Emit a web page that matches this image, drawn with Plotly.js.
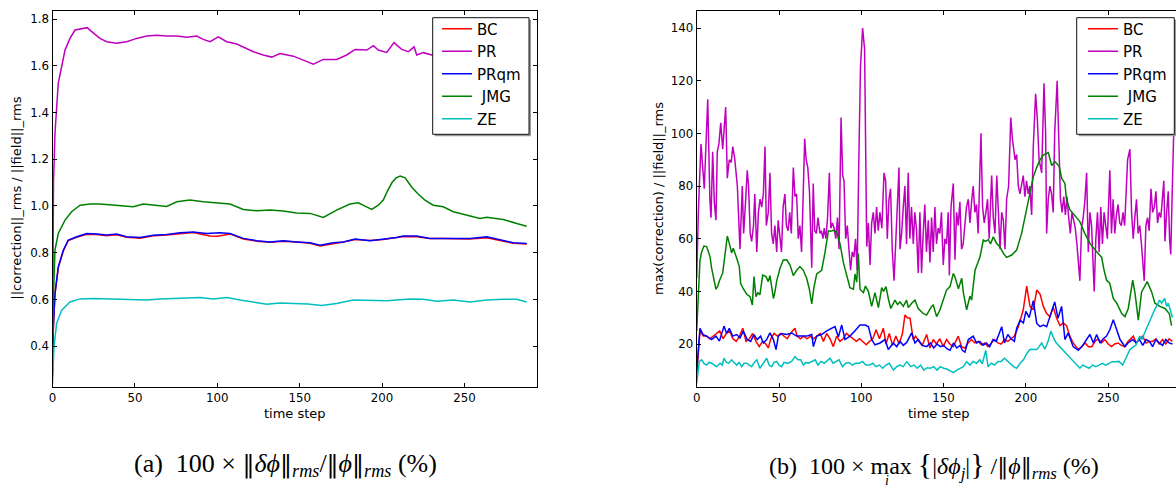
<!DOCTYPE html>
<html>
<head>
<meta charset="utf-8">
<script src="https://cdn.plot.ly/plotly-3.0.1.min.js"></script>
<style>html,body{margin:0;padding:0;background:#fff;}#chart{width:1176px;height:487px;}</style>
</head>
<body>
<div id="chart"></div>
<script>
// ---------- Panel (a): ||correction||_rms / ||field||_rms ----------
const a_BC_x = [0,0.5,1.5,3.5,6.6,9.6,14.7,20.8,26.8,32.9,38.9,45,53.1,61.2,69.3,77.4,85.4,91,95.6,100,104,108,115.8,123.9,132,140,148.2,156.3,162.3,170.4,176.5,183.6,192.7,200.7,208.8,212.9,221,229.1,237.1,245.2,253.3,263.5,267,271.5,279.6,287.7];
const a_BC_y = [0.27,0.47,0.62,0.735,0.808,0.852,0.866,0.879,0.878,0.872,0.877,0.866,0.862,0.872,0.876,0.882,0.886,0.878,0.871,0.870,0.874,0.880,0.858,0.849,0.844,0.849,0.845,0.840,0.828,0.840,0.846,0.856,0.852,0.856,0.866,0.869,0.868,0.860,0.860,0.860,0.858,0.864,0.858,0.852,0.840,0.837];

const a_PR_x = [0,0.6,1.5,3.5,7.6,10.6,13.7,16.7,21.1,23.8,28.8,32.9,38.9,45,51.1,57.2,63.2,69.3,75.4,81.4,87.5,91.5,95.6,100.6,105.7,111.8,117.8,121.9,127.9,133,138,146.1,152.2,158.3,164.3,172.4,178.5,183.6,190.7,194.7,197.7,202.8,207.2,211.9,215.9,219.4,221,225,230.1,240,250,260,270,280,288];
const a_PR_y = [0.32,1.10,1.31,1.526,1.667,1.717,1.753,1.756,1.763,1.746,1.717,1.703,1.696,1.703,1.717,1.727,1.731,1.727,1.727,1.722,1.727,1.713,1.703,1.724,1.703,1.693,1.674,1.660,1.646,1.637,1.652,1.641,1.624,1.607,1.627,1.627,1.646,1.670,1.667,1.686,1.667,1.657,1.699,1.670,1.660,1.681,1.646,1.656,1.646,1.650,1.645,1.650,1.648,1.652,1.650];

const a_PRqm_x = [0,0.5,1.5,3.5,6.6,9.6,14.7,20.8,26.8,32.9,38.9,45,53.1,61.2,69.3,77.4,85.4,93.5,101.6,107.7,115.8,123.9,132,140,148.2,156.3,162.3,170.4,176.5,183.6,192.7,200.7,208.8,212.9,221,229.1,237.1,245.2,253.3,263.5,271.5,279.6,287.7];
const a_PRqm_y = [0.28,0.482,0.625,0.739,0.811,0.854,0.868,0.882,0.880,0.875,0.880,0.868,0.865,0.874,0.878,0.885,0.888,0.882,0.885,0.882,0.861,0.851,0.846,0.851,0.846,0.842,0.832,0.842,0.846,0.858,0.851,0.857,0.865,0.871,0.871,0.861,0.861,0.861,0.861,0.868,0.854,0.842,0.839];

const a_JMG_x = [0,0.6,1.5,3.5,7.6,11.6,16.7,22.8,28.8,38.9,49,55.1,63.2,69.3,75.4,83.4,91.5,99.6,107.7,115.8,123.9,132,140,148.2,156.3,164.3,172.4,180.5,185.6,189.6,193.7,197.7,200.7,203,206,208.5,211,214,218,222,226,231,237.1,243.2,251.3,259.4,263.5,273.5,281.7,287.7];
const a_JMG_y = [0.29,0.62,0.811,0.882,0.939,0.975,1.003,1.008,1.008,1.003,0.996,1.008,1.003,0.998,1.018,1.025,1.018,1.013,1.008,0.985,0.979,0.982,0.978,0.970,0.968,0.951,0.982,1.008,1.013,0.999,0.985,1.003,1.025,1.06,1.10,1.12,1.128,1.12,1.08,1.05,1.025,1.003,0.996,0.975,0.961,0.946,0.951,0.942,0.925,0.913];

const a_ZE_x = [0,0.9,2.5,5.6,10.6,16.7,24.9,32.9,41,49,57.2,65.3,73.4,81.4,89.5,97.6,105.7,113.8,121.9,130,138,148,155,163.3,172.4,182.5,192.7,202.8,216.9,225,233.1,243.2,253.3,263.5,273.5,281.7,287.7];
const a_ZE_y = [0.24,0.397,0.497,0.554,0.589,0.602,0.604,0.602,0.602,0.600,0.597,0.602,0.605,0.608,0.608,0.602,0.608,0.597,0.588,0.579,0.584,0.582,0.580,0.574,0.582,0.597,0.594,0.594,0.602,0.600,0.592,0.597,0.589,0.597,0.600,0.600,0.589];

// ---------- Panel (b): max(correction) / ||field||_rms ----------
const b_BC_x = [0,1,2,4,6,8,10,12,14,16,18,20,22,24,26,28,30,32,34,36,38,40,42,43.5,45,47,49,51,53,55,57,59.7,61,63,65,67,69,71,73,75,77,79,81,83,85,87,89,91,93,95,97,99,101,103,105,107,109,111,113.4,115,117,119,121,123,125,126.5,128,129.6,131.6,133,135,137,139.7,141.7,143.7,145.7,147.7,149.8,151.8,153.8,155.9,158.9,160.9,162.9,164.9,166.9,168.9,171,173,175,177,179,181,183,185,187,189,191,193,195.4,197,198.4,200.5,202.5,204.5,206.6,208.6,210.6,212.6,214.6,216.6,218.7,220.7,222.7,224.7,226.7,228.7,231.8,234,236,238,240,242,244,246,248,250,252,254,256,258,260,262,265.3,267,269,271,273,275,277,279,281,283,285,287,289];
const b_BC_y = [8,18,25,23,23,22,23,24,25,22,24,25,22,21,23,26,21,22,24,21,19,21,20,18.5,22,24,23,24,23,22,24,26,23,22,23,22,23,22,23,24,21,24,22,19,23,21,22,24,23,22,21,22,21,19.7,21,22,25.4,22,26,20,24,19.5,23,20,24,31,30,29.8,21.7,23,21,19.5,23.6,18.5,21.7,20,22,19,21.7,20,19,23,19,18.5,20.4,21.7,20.4,21,19.7,20.4,19,20.5,21.7,20.4,20,21.7,21,22,23,26.6,30,33,42,34.3,33,40.5,39,34.3,31.6,30.4,34,29.8,27,28,27,23,20.4,17.9,19,20.4,19,19,21,22,20.4,21.7,20,19,20,20.4,19.5,19,21,23,20.4,22,23,20.4,21,21,22,20,21.7,20,22,21];

const b_PR_x = [0,1,2.6,3.6,4.6,6.7,8,8.7,9.7,10.7,11.7,12.5,13.5,14.6,15.8,17.6,18.6,19.8,21,21.9,23,24.7,25.5,26.3,27.7,28.5,29.5,30.7,31.5,32.5,33.4,34.5,35.3,36.5,37.5,38.5,39.5,40.5,41.5,42.3,43.5,44.5,45.5,46.5,47.5,48.6,49.5,50.5,51.5,52.5,53.6,54.5,55.5,56.5,57.5,58.7,59.7,60.7,61.7,62.7,63.7,64.5,65.6,66.5,67.5,68.5,69.9,70.8,71.7,72.7,73.7,74.9,75.8,76.7,77.5,78.5,79.5,80.6,81.5,82.5,83.5,84.5,85.5,86.5,87.7,88.7,89.5,90.5,91.5,92.5,93.5,94.5,95.5,96.5,97.5,98.5,99.5,100.8,102,103.3,104.3,105.3,106.3,107.3,108.3,109.3,110.3,111.3,112.5,113.8,114.8,115.8,116.8,117.8,118.8,119.9,120.9,121.9,122.9,123.5,124.5,125.5,126.5,127.5,128.5,129.5,130.5,131.6,132.5,133.5,134.6,135.6,136.6,137.6,138.6,139.6,140.7,141.7,142.7,143.7,144.7,145.7,146.7,147.7,148.7,149.8,150.8,151.8,152.8,153.5,154.5,155.9,156.9,157.9,158.9,159.9,160.9,161.9,162.9,163.9,165,166,167,168,169,170,171,172.7,173.7,174.7,175.7,176.7,177.7,179.2,180.2,181.2,182.3,183.3,184.3,185.3,186.3,187.3,188.3,189.5,190.8,191.8,193.4,194.4,195.4,196.4,197.4,198.4,199.4,200.4,201.4,202.4,203.5,204.5,205.9,206.9,208,209.6,211,212,212.6,213.6,214.6,215.6,216.6,217.5,219,220,221,222,223,224,225,226,227,228,229,230,231,232.8,233.8,234.8,235.8,236.9,237.9,238.9,239.9,240.5,241.5,242.5,243.5,244.5,245.5,246.5,247.5,248.5,249.5,251,252,253,254,255,256,257,258,259,260,261.8,263.2,264.2,265.2,266.2,267.2,268.2,269.2,270.2,271.9,272.9,273.9,274.9,276,277,278,279,280,281,282,283.8,284.5,285.5,286.5,287.3,288,289,290];
const b_PR_y = [45,70,96,88,79,113,75,68,93,74,67,93,96,104,94,110,83,90,89,95,91,80,70,56,80,62,72,86,80,62,59,65,77,55,70,75,72,77,95,65,70,85,62,58,65,55,67,60,55,72,77,65,63,70,62,87,76,77,60,65,55,72,98,90,87,78,49,81,63,62,68,62,63,60,64,60,68,85,64,66,64,60,68,56,106,84,82,60,65,56,48,55,53,60,48,90,125,140,132,57,66,50,66,70,62,72,63,70,64,85,82,60,75,79,56,44,58,68,87,56,62,72,80,58,85,60,72,58,70,64,47,70,47,62,73,55,67,51,68,55,72,58,64,62,70,50,60,58,70,46,72,81,52,70,65,74,56,58,64,72,75,66,74,80,70,73,62,100,72,66,70,75,60,84,68,62,84,70,56,70,67,56,75,80,106,98,90,92,80,77,80,84,76,82,77,80,69,95,115,106,90,85,119,100,62,75,80,77,70,100,120,100,75,70,76,69,76,68,62,70,67,64,58,44,64,68,74,85,55,70,65,56,40,60,70,55,72,58,70,65,60,86,62,75,62,69,73,66,65,70,65,90,94,70,60,68,75,62,65,58,44,65,68,63,79,70,72,78,66,70,68,82,59,70,78,60,54,80,105];

const b_PRqm_x = [0,1,2,4,6,9.1,11.7,13.8,15.2,16.6,18.2,19.8,21.8,24.3,26.3,28.3,30.7,32.8,34.8,36.8,38.8,40.5,42.5,44.5,46.6,48.2,49.6,51.6,54.7,57.7,60.7,63.8,66.8,69.9,70.9,72.9,75.9,79,82,84,86.1,88.1,90.1,93.1,96.2,99.2,102.3,104.3,106.3,108.3,111.4,114.4,116.4,119.5,121.5,123.5,125.5,127.6,130.6,132.6,134.6,137,139.7,142,144,146,148,150,152,153.9,156,158,160,161.5,163,165,168,170,172,174,176,178,180,182,185.3,187,189,191,193,194.4,196.5,198.5,200,202,204.5,206.6,208.6,210.6,212.6,215,217.5,219.5,221.7,223.7,225.7,228.7,231.8,234,236,238.9,241,243,245,247,249,251,253.1,255.2,257.2,260.2,262,264.9,267,269,271,273,275,277,279,281,283,285,287,289];
const b_PRqm_y = [10,20,26,23.5,23,21.7,23,21.1,23.6,26.8,24,26,23,23.6,22.3,24.9,21.7,21,23.6,21.7,23,20.4,21.7,24.2,21.7,17.9,23,24,23.6,24.2,23,23,23,23.6,19,23,23.6,25,26,26.6,22.7,27.2,21.7,23,25,27.2,27.2,26.6,21.7,19.7,20.4,21.7,17.9,20.4,19,21,19.5,20.6,24.2,20.4,21.7,19.5,19,20.4,18.5,20,19,19.5,18.2,17.6,20.4,18.5,19.5,17.5,16.9,21.7,23,20.4,21,19.5,20.4,19,21.7,21,26.6,20.4,23.6,22,21,26,29,28,32.4,30,36.5,27.8,26.6,27.2,26.6,31.6,36,29.8,34.3,21.7,24.2,19,17.6,19,21,23.6,20.4,23.6,20.4,22,23,25.4,29.2,25.4,21.7,19,20.4,21.7,20.4,21.7,19.5,21.7,21,19,21.7,20.4,19.5,21.7,20.4,20];

const b_JMG_x = [0,1,2,3,4.4,6,7,8.1,9,10.1,11.7,12.8,13.8,15.8,17.2,18.6,19.5,20.2,21.2,22.2,23.3,24.3,25.9,26.7,28.3,30.3,32.4,33.8,34.8,36,37.2,38.4,40.1,42.1,43.5,44.5,45.5,46.6,47.6,48.6,50.6,51.6,52.6,54.7,56.7,58.7,60.7,62.7,64.8,66.8,68.4,69.9,71.2,72.9,75.9,77.9,80,81.5,83,85,87.1,89.1,91.1,93.1,95.2,96.2,97.2,98.2,99.2,101.3,102.5,104.3,106.3,108.3,110.4,112.4,113.5,115,116.5,117.9,120.5,122,123.5,125.5,127.5,128.6,130.6,132.6,134.6,137.6,139.7,142.7,143.7,145.8,147.8,149.8,151.8,153.9,155.9,156.9,159,161,162,164,166,167,169.1,172.1,174.1,175.5,177.2,178.5,180.2,182.2,184.3,186.3,188.3,191.4,194.4,197.4,200.5,201.5,204.5,206.5,208.6,210.6,213.6,215.7,217.7,220.3,221.7,223.7,224.7,226.7,228.7,232.8,235.8,238.9,243,246,247.5,249,251,253.1,255.2,258.2,260.2,262.2,264.9,266.3,268.3,270.3,273.7,276.4,278.4,281.4,284.5,287.1,288.5];
const b_JMG_y = [25,42,51.9,55,57.2,57,55,53.2,49,45.6,40.8,42,44,47,53.8,61,59,57.5,54.6,56.4,54,52.6,49.4,43,41,39,38,34.8,45.6,38,39.5,38.7,46.2,45.6,43.7,46,42,37.3,40,44,48.7,50.5,51.9,52,50,46,48,49.4,48,45,41,35.2,41.4,46.6,48,54.6,63,62.8,63.2,62.6,58,51,46.6,41.4,40.8,46.6,43.5,54.4,40.8,39.5,42,40,34.3,39.5,33.8,41.4,40,41.8,37,33.5,36.7,35,36,34.3,36.7,33.8,35.5,36.7,33.5,31.6,31,34.3,34.8,30.4,33,36.7,40.5,41.8,46.8,45.5,41,45,39.5,33,38.2,36.7,48,53,59.5,59,59.7,58,60.7,58.2,56.9,54.4,52.9,53.8,55.7,62,72,74.6,83.5,87,89.9,91.8,92.7,87.8,89.3,87.4,83,81,74.7,71,69.5,66.5,62,58.2,55,53,48,44.3,43,37.3,35.5,31.6,30.4,33.5,44.3,39.2,29.1,39.8,43.7,39.8,35.5,34.3,33.5,31.6,27];

const b_ZE_x = [0,1.6,3,4.5,6,7.5,9.1,10.5,12.1,14.2,15.5,16.6,18,19.5,21.2,22.7,24.3,25.8,27.3,28.8,30.4,32,33.4,35,36.5,38.4,40,42.5,44,45.5,47,48.6,50,51.6,53,55.6,57.7,59.7,61.5,63.2,64.8,66.5,68,70,72,73.7,75.5,77.5,79,81,82.8,84.5,86.5,88.6,90.5,92.5,94.5,96.5,98.8,100.8,102.7,105,107,109,111,113,115,117,119.5,121.5,123.5,125.5,127.6,130,132,134,136,138,140,142,144,146,148,150,152,154,155.9,158,160,162,164,166,168,170,172,173.5,175.6,177,179,181,183,185,187,189,191,192.5,194.4,196.5,198.5,200.5,202.5,204.5,206.6,208,209.6,211.5,213.5,215.2,217,218.5,220.5,222.7,224.5,226.5,228.7,230.7,232.8,234.5,236.5,238.5,240.5,242.5,244.5,246.5,248.5,250.5,252.5,254.5,256.5,258.8,260.5,262,263.2,265.5,267,269.1,270.5,272.1,274,276,278.2,280,281.2,282.5,284.3,285.5,286.5,288.2,289];
const b_ZE_y = [5,13.4,14,12.5,12,13,12.7,12,11.4,12.7,12,14.6,13,12.7,14,13,12,13,11.4,12.7,12.7,12,11.4,13,14,10.8,12.5,14.6,12,11.4,13,13.4,12,11.4,13,12.7,13.4,15.2,14,14,12,13,12.7,13.4,14,12,13.4,12.7,13.4,14.6,12.7,13.4,14,11.4,12.7,13,12,12.7,12.7,13.4,12,12,12.7,11.4,12,10.8,12,12.7,10.1,11.4,12,11.4,13.3,11.4,12,10.8,12,10.1,11,10.8,11.4,10.1,11.4,10.8,10.5,9.8,9.1,10.1,10.8,11.4,13.3,12,13.4,12.7,14,12.5,17.6,11.4,12.7,12,13.4,13.4,14.6,13.4,12,11.4,10.8,12.7,14,16.3,18,17.9,17.9,19,20.4,18,21,24.9,22,20.4,19,17.6,16.3,15.2,13.3,12,10.8,12,11.4,10.8,12,11.4,12,12.7,12,12.7,13.3,13.3,13.4,12,14.6,16.3,17.9,19,19.7,23,21.7,24.2,27,29.8,33,35,36.7,35.5,37.3,34.3,35.5,32,30];

// ---------- labels ----------
const seriesNames = ['BC', 'PR', 'PRqm', ' JMG', 'ZE'];
const seriesColors = ['#ff0000', '#bf00bf', '#0000ff', '#008000', '#00bfbf'];
const xTicks = [0, 50, 100, 150, 200, 250];
const yTicksA = [0.4, 0.6, 0.8, 1.0, 1.2, 1.4, 1.6, 1.8];
const yTicksA_text = ['0.4', '0.6', '0.8', '1.0', '1.2', '1.4', '1.6', '1.8'];
const yTicksB = [20, 40, 60, 80, 100, 120, 140];
const xTitle = 'time step';
const yTitleA = '||correction||_rms / ||field||_rms';
const yTitleB = 'max(correction) / ||field||_rms';

const W = 1176, H = 487;
const px = v => v / W;
const py = v => 1 - v / H;

const aSets = [[a_BC_x, a_BC_y], [a_PR_x, a_PR_y], [a_PRqm_x, a_PRqm_y], [a_JMG_x, a_JMG_y], [a_ZE_x, a_ZE_y]];
const bSets = [[b_BC_x, b_BC_y], [b_PR_x, b_PR_y], [b_PRqm_x, b_PRqm_y], [b_JMG_x, b_JMG_y], [b_ZE_x, b_ZE_y]];

const traces = [];
aSets.forEach((s, i) => traces.push({
  x: s[0], y: s[1], type: 'scatter', mode: 'lines', name: seriesNames[i],
  line: {color: seriesColors[i], width: 1.5}, xaxis: 'x', yaxis: 'y', legend: 'legend'
}));
bSets.forEach((s, i) => traces.push({
  x: s[0], y: s[1], type: 'scatter', mode: 'lines', name: seriesNames[i],
  line: {color: seriesColors[i], width: 1.5}, xaxis: 'x2', yaxis: 'y2', legend: 'legend2'
}));

const tickFont = {family: 'DejaVu Sans', size: 11.8, color: '#000'};
const axisCommon = {
  showgrid: false, zeroline: false, showline: true, linecolor: '#000', linewidth: 1,
  ticks: 'inside', ticklen: 4, tickcolor: '#000', tickwidth: 1, tickfont: tickFont,
  automargin: false, fixedrange: true
};

const legendCommon = {
  bgcolor: 'rgba(0,0,0,0)', borderwidth: 0,
  font: {family: 'DejaVu Sans', size: 15, color: '#000'},
  xanchor: 'right', yanchor: 'top', itemwidth: 30, tracegroupgap: 0
};

// legend frames (matplotlib-style box with a slight shadow)
function frame(x0, y0, x1, y1) {
  return [
    {type: 'rect', xref: 'paper', yref: 'paper', layer: 'above',
     x0: px(x0 + 2), x1: px(x1 + 2), y0: py(y1 + 2), y1: py(y0 + 2),
     fillcolor: '#9a9a9a', line: {width: 0}},
    {type: 'rect', xref: 'paper', yref: 'paper', layer: 'above',
     x0: px(x0), x1: px(x1), y0: py(y1), y1: py(y0),
     fillcolor: '#ffffff', line: {color: '#111', width: 1}}
  ];
}

const bar = '<span style="font-family:DejaVu Serif;font-size:22px">‖</span>';

const layout = {
  width: W, height: H,
  margin: {l: 0, r: 0, t: 0, b: 0, pad: 0},
  paper_bgcolor: '#fff', plot_bgcolor: '#fff',
  showlegend: true,
  xaxis: Object.assign({}, axisCommon, {
    domain: [px(52.5), px(536.7)], range: [0, 293.8],
    tickvals: xTicks, ticktext: xTicks.map(String), mirror: 'ticks', anchor: 'y'
  }),
  yaxis: Object.assign({}, axisCommon, {
    domain: [py(386.8), py(10.7)], range: [0.2257, 1.8356],
    tickvals: yTicksA, ticktext: yTicksA_text, mirror: 'ticks', anchor: 'x'
  }),
  xaxis2: Object.assign({}, axisCommon, {
    domain: [px(696.7), 1], range: [0, 291.2],
    tickvals: xTicks, ticktext: xTicks.map(String), mirror: 'ticks', anchor: 'y2'
  }),
  yaxis2: Object.assign({}, axisCommon, {
    domain: [py(387.3), py(10.7)], range: [3.56, 146.6],
    tickvals: yTicksB, ticktext: yTicksB.map(String), mirror: false, anchor: 'x2'
  }),
  legend: Object.assign({}, legendCommon, {x: px(526), y: py(12.5)}),
  legend2: Object.assign({}, legendCommon, {x: px(1172), y: py(12.5)}),
  shapes: frame(432.7, 17.7, 529, 134.3).concat(frame(1076.7, 17.7, 1174.3, 134.3)),
  annotations: [
    {text: xTitle, xref: 'paper', yref: 'paper', x: px(294.6), y: py(413), showarrow: false,
     font: {family: 'DejaVu Sans', size: 13, color: '#000'}, xanchor: 'center', yanchor: 'middle'},
    {text: xTitle, xref: 'paper', yref: 'paper', x: px(939), y: py(413), showarrow: false,
     font: {family: 'DejaVu Sans', size: 13, color: '#000'}, xanchor: 'center', yanchor: 'middle'},
    {text: yTitleA, xref: 'paper', yref: 'paper', x: px(17), y: py(198.7), showarrow: false, textangle: -90,
     font: {family: 'DejaVu Sans', size: 13, color: '#000'}, xanchor: 'center', yanchor: 'middle'},
    {text: yTitleB, xref: 'paper', yref: 'paper', x: px(658), y: py(199), showarrow: false, textangle: -90,
     font: {family: 'DejaVu Sans', size: 13, color: '#000'}, xanchor: 'center', yanchor: 'middle'},
    {text: '(a)  100 × ' + bar.replace('22px', '24px') + '<i>δϕ</i>' + bar.replace('22px', '24px') + '<sub><i>rms</i></sub>/' + bar.replace('22px', '24px') + '<i>ϕ</i>' + bar.replace('22px', '24px') + '<sub><i>rms</i></sub> (%)',
     xref: 'paper', yref: 'paper', x: px(285), y: py(465), showarrow: false,
     font: {family: 'Liberation Serif', size: 26, color: '#000'}, xanchor: 'center', yanchor: 'middle'},
    {text: '(b)  100 × max <span style="font-size:30px">{</span>|<i>δϕ<sub>j</sub></i>|<span style="font-size:30px">}</span> /' + bar + '<i>ϕ</i>' + bar + '<sub><i>rms</i></sub> (%)',
     xref: 'paper', yref: 'paper', x: px(934), y: py(465), showarrow: false,
     font: {family: 'Liberation Serif', size: 24, color: '#000'}, xanchor: 'center', yanchor: 'middle'},
    {text: '<i>i</i>', xref: 'paper', yref: 'paper', x: px(887), y: py(480), showarrow: false,
     font: {family: 'Liberation Serif', size: 14, color: '#000'}, xanchor: 'center', yanchor: 'middle'}
  ]
};

Plotly.newPlot('chart', traces, layout, {displayModeBar: false, staticPlot: true});
</script>
</body>
</html>
